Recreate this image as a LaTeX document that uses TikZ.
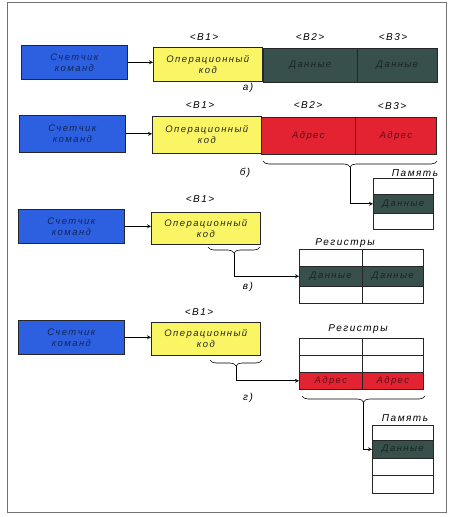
\documentclass[tikz,border=0pt]{standalone}
\usepackage{fontspec}
\setmainfont{Liberation Sans}
\newfontfamily\lblfont[LetterSpace=15]{Liberation Sans}
\usetikzlibrary{calc,decorations.pathreplacing}

\definecolor{cntblue}{RGB}{45,95,225}
\definecolor{opyellow}{RGB}{250,245,100}
\definecolor{datgreen}{RGB}{55,80,75}
\definecolor{adrred}{RGB}{228,35,50}

\begin{document}
\begin{tikzpicture}[x=1pt,y=-1pt,
	box/.style={draw=black!85, line width=0.7pt, anchor=north west, inner sep=0pt,
		minimum height=34pt, align=center, font=\lblfont\itshape\fontsize{9.5}{11}\selectfont},
	cnt/.style={box, fill=cntblue, text=cntblue!40!black, minimum width=106pt},
	opcode/.style={box, fill=opyellow, text=black!85, minimum width=109pt},
	datacell/.style={box, fill=datgreen, text=datgreen!45!black},
	addrcell/.style={box, fill=adrred, text=adrred!40!black},
	emptycell/.style={box, fill=white},
	tag/.style={font=\lblfont\itshape\fontsize{10}{11}\selectfont},
	title/.style={anchor=base, font=\lblfont\itshape\fontsize{10}{11}\selectfont},
	brc/.style={decorate, decoration={brace, mirror, amplitude=6pt}, line width=0.6pt},
	link/.style={->, >=stealth, line width=0.8pt}]
	
	\useasboundingbox (0,0) rectangle (450,517);
	% рамка
	\draw[black!55, line width=0.6pt] (7,2) rectangle (446,512);
	
	% а) команда с двумя данными
	\node[cnt] (cntA) at (21,45) {Счетчик\\команд};
	\node[opcode] (opA) at (153,47) {Операционный\\код};
	\node[datacell, minimum width=94pt] (datA1) at (263,48) {Данные};
	\node[datacell, minimum width=80pt] (datA2) at (357,48) {Данные};
	\node[tag] (tagA1) at (204,37) {<B1>};
	\node[tag] (tagA2) at (310,37) {<B2>};
	\node[tag] (tagA3) at (393,37) {<B3>};
	\node[tag] (capA) at (248,88) {а)};
	\draw[link] (cntA.east) -- (opA.west |- cntA.east);
	
	% б) команда с двумя адресами
	\node[cnt, minimum height=37pt] (cntB) at (19,115) {Счетчик\\команд};
	\node[opcode, minimum height=37pt] (opB) at (152,116) {Операционный\\код};
	\node[addrcell, minimum width=94pt, minimum height=37pt] (adrB1) at (261,117) {Адрес};
	\node[addrcell, minimum width=81pt, minimum height=37pt] (adrB2) at (355,117) {Адрес};
	\node[tag] (tagB1) at (200,105) {<B1>};
	\node[tag] (tagB2) at (308,105) {<B2>};
	\node[tag] (tagB3) at (392,106) {<B3>};
	\node[tag] (capB) at (245,173) {б)};
	\draw[link] (cntB.east) -- (opB.west |- cntB.east);
	% память
	\node[title] (memTB) at (415,176) {Память};
	\node[emptycell, minimum width=60pt, minimum height=16pt] (memB1) at (373,178) {};
	\node[datacell, minimum width=60pt, minimum height=19pt] (memB2) at (373,194) {Данные};
	\node[emptycell, minimum width=60pt, minimum height=16pt] (memB3) at (373,213) {};
	\draw[brc] (263,161) -- (437,161);
	\coordinate (tipB) at (350,167);
	\draw[link] (tipB) |- (memB2.west);
	
	% в) данные в регистрах
	\node[cnt] (cntV) at (18,209) {Счетчик\\команд};
	\node[opcode, minimum height=32pt] (opV) at (151,212) {Операционный\\код};
	\node[tag] (tagV1) at (200,199) {<B1>};
	\node[tag] (capV) at (248,287) {в)};
	\draw[link] (cntV.east) -- (opV.west |- cntV.east);
	% регистры
	\node[title] (regTV) at (345,245) {Регистры};
	\node[emptycell, minimum width=63pt, minimum height=17pt] (regV11) at (299,249) {};
	\node[emptycell, minimum width=61pt, minimum height=17pt] (regV12) at (362,249) {};
	\node[datacell, minimum width=63pt, minimum height=20pt] (regV21) at (299,266) {Данные};
	\node[datacell, minimum width=61pt, minimum height=20pt] (regV22) at (362,266) {Данные};
	\node[emptycell, minimum width=63pt, minimum height=17pt] (regV31) at (299,286) {};
	\node[emptycell, minimum width=61pt, minimum height=17pt] (regV32) at (362,286) {};
	\draw[brc] (208,247) -- (260,247);
	\coordinate (tipV) at (234,253);
	\draw[link] (tipV) |- (regV21.west);
	
	% г) адреса в регистрах
	\node[cnt] (cntG) at (18,320) {Счетчик\\команд};
	\node[opcode, minimum height=33pt] (opG) at (151,322) {Операционный\\код};
	\node[tag] (tagG1) at (199,312) {<B1>};
	\node[tag] (capG) at (248,398) {г)};
	\draw[link] (cntG.east) -- (opG.west |- cntG.east);
	% регистры
	\node[title] (regTG) at (358,331) {Регистры};
	\node[emptycell, minimum width=63pt, minimum height=17pt] (regG11) at (299,338) {};
	\node[emptycell, minimum width=61pt, minimum height=17pt] (regG12) at (362,338) {};
	\node[emptycell, minimum width=63pt, minimum height=17pt] (regG21) at (299,355) {};
	\node[emptycell, minimum width=61pt, minimum height=17pt] (regG22) at (362,355) {};
	\node[addrcell, minimum width=63pt, minimum height=17pt] (regG31) at (299,372) {Адрес};
	\node[addrcell, minimum width=61pt, minimum height=17pt] (regG32) at (362,372) {Адрес};
	\draw[brc] (210,360) -- (262,360);
	\coordinate (tipG) at (236,366);
	\draw[link] (tipG) |- (regG31.west);
	% память
	\node[title] (memTG) at (405,421) {Память};
	\node[emptycell, minimum width=61pt, minimum height=15pt] (memG1) at (372,425) {};
	\node[datacell, minimum width=61pt, minimum height=18pt] (memG2) at (372,440) {Данные};
	\node[emptycell, minimum width=61pt, minimum height=17pt] (memG3) at (372,458) {};
	\node[emptycell, minimum width=61pt, minimum height=18pt] (memG4) at (372,475) {};
	\draw[brc] (302,396) -- (425,396);
	\coordinate (tipRG) at (363,402);
	\draw[link] (tipRG) |- (memG2.west);
\end{tikzpicture}
\end{document}
